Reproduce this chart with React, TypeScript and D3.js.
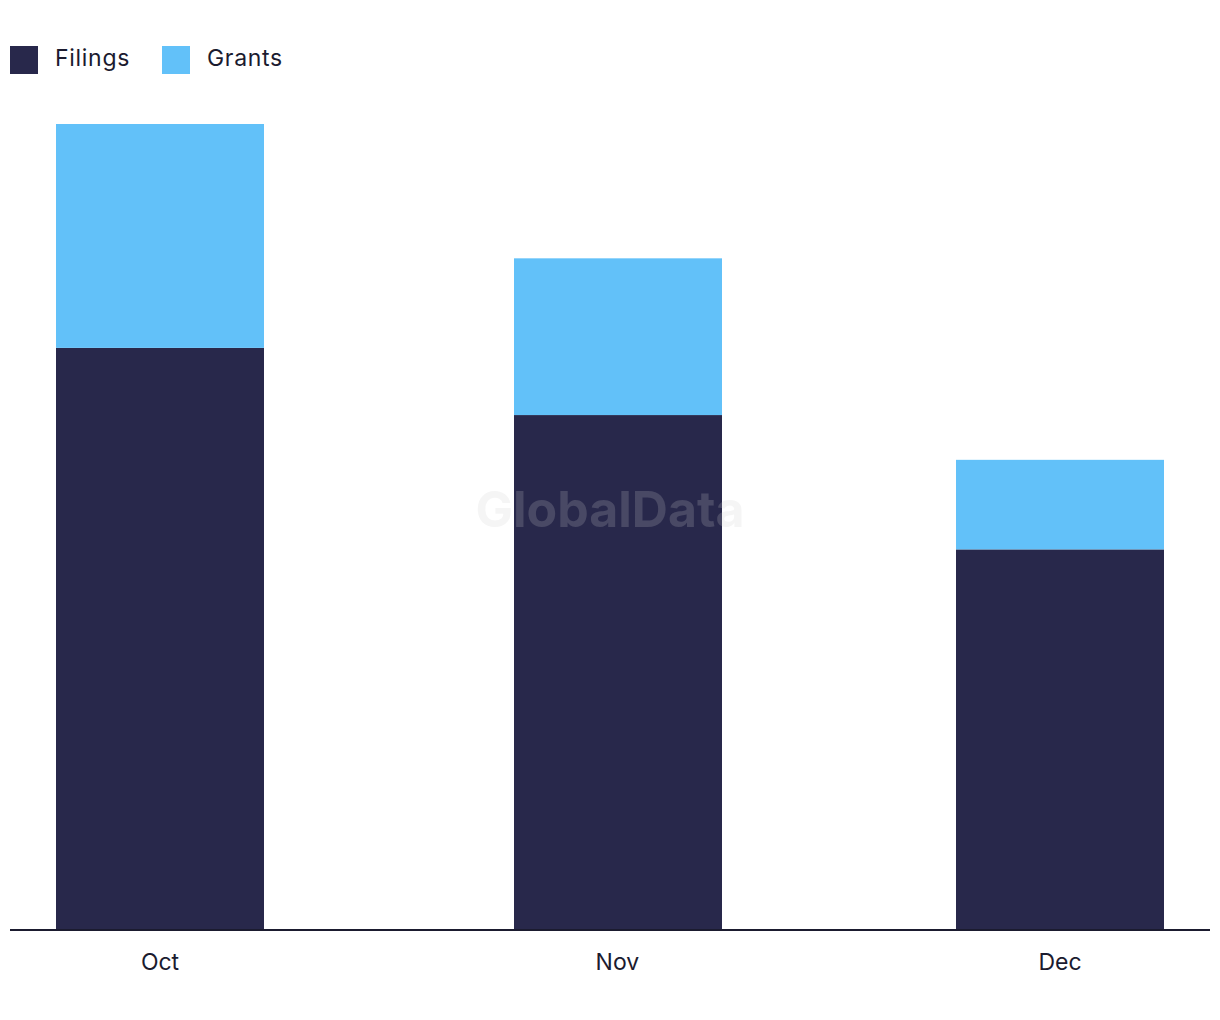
import React from 'react';
import * as d3 from 'd3';

// months on a time axis (bar centres follow real month lengths)
const months = ['2023-10-01', '2023-11-01', '2023-12-01'];
const monthLabels = ['Oct', 'Nov', 'Dec'];
const filings = [130, 115, 85];
const grants = [50, 35, 20];
const seriesNames = ['Filings', 'Grants'];
const seriesColors = ['#28284b', '#62c1f9'];

const W = 1220;
const H = 1020;
const margin = { top: 124, right: 10, bottom: 90, left: 10 };

const App: React.FC = () => {
  const parse = d3.utcParse('%Y-%m-%d');
  const dates = months.map(m => parse(m) as Date);

  const pad = 10.17 * 24 * 3600 * 1000;
  const x = d3
    .scaleUtc()
    .domain([new Date(+dates[0] - pad), new Date(+dates[dates.length - 1] + pad)])
    .range([margin.left, W - margin.right]);

  const totals = filings.map((f, i) => f + grants[i]);
  const y = d3
    .scaleLinear()
    .domain([0, d3.max(totals) || 0])
    .range([H - margin.bottom, margin.top]);

  const rows = dates.map((d, i) => ({ date: d, Filings: filings[i], Grants: grants[i] }));
  const stack = d3.stack<any>().keys(seriesNames)(rows);

  const barW = 208;
  const font = 'Inter, "Noto Sans", sans-serif';

  return (
    <svg width={W} height={H} style={{ position: 'absolute', left: 0, top: 0, background: '#fff' }}>
      {/* legend */}
      {seriesNames.map((s, i) => {
        const lx = i === 0 ? 10 : 162;
        return (
          <g key={s} transform={`translate(${lx},46)`}>
            <rect width={28} height={28} fill={seriesColors[i]} />
            <text x={45} y={20} fontFamily={font} fontSize={23} fill="#1b1b2f" letterSpacing={0.7}>
              {s}
            </text>
          </g>
        );
      })}

      {/* bars */}
      {stack.map((layer, li) => (
        <g key={layer.key} fill={seriesColors[li]}>
          {layer.map((seg, i) => (
            <rect
              key={i}
              x={Math.round(x(dates[i]) - barW / 2 + 0.3)}
              y={y(seg[1])}
              width={barW}
              height={y(seg[0]) - y(seg[1])}
            />
          ))}
        </g>
      ))}

      {/* baseline */}
      <line
        x1={margin.left}
        x2={W - margin.right}
        y1={y(0)}
        y2={y(0)}
        stroke="#1b1b2f"
        strokeWidth={2}
      />

      {/* x labels */}
      {dates.map((d, i) => (
        <text
          key={i}
          x={x(d)}
          y={y(0) + 40}
          textAnchor="middle"
          fontFamily={font}
          fontSize={23}
          fill="#1b1b2f"
        >
          {monthLabels[i]}
        </text>
      ))}

      {/* watermark */}
      <text
        x={610}
        y={527}
        textAnchor="middle"
        fontFamily={font}
        fontWeight={700}
        fontSize={50}
        fill="#cccccc"
        fillOpacity={0.2}
      >
        GlobalData
      </text>
    </svg>
  );
};

export default App;
